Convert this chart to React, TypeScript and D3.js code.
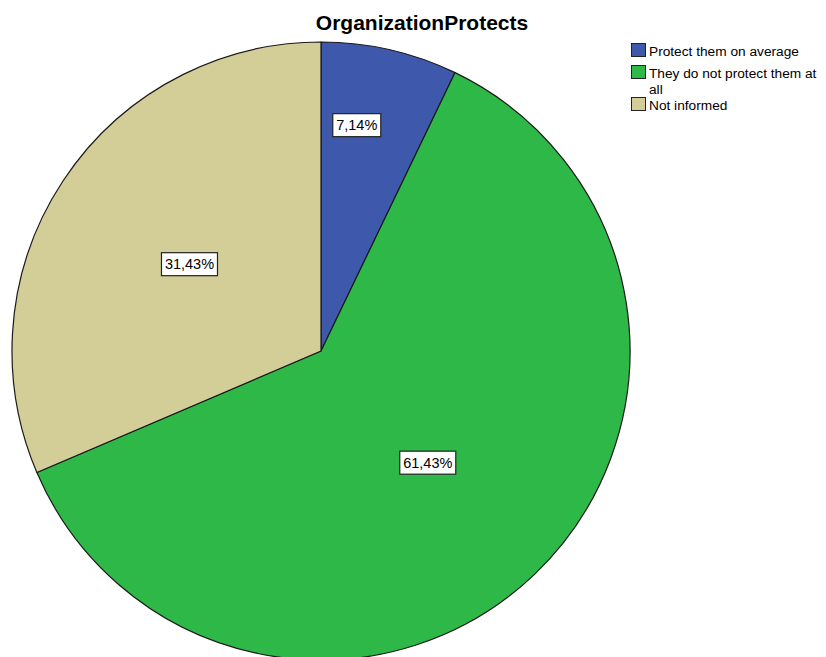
import React from 'react';
import * as d3 from 'd3';

const categories = ['Protect them on average', 'They do not protect them at all', 'Not informed'];
const legendLines = [['Protect them on average'], ['They do not protect them at', 'all'], ['Not informed']];
const counts = [5, 43, 22];
const percentLabels = ['7,14%', '61,43%', '31,43%'];
const colors = ['#3E58AC', '#2EB848', '#D3CE97'];
// where the label sits inside its slice: fraction of the angle span, fraction of the radius
const labelAngleFrac = [0.35, 0.5, 0.5];
const labelRadiusFrac = [0.74, 0.5, 0.51];

const width = 826;
const height = 657;
const cx = 321;
const cy = 351;
const radius = 309;

const App: React.FC = () => {
  const pie = d3.pie<number>().sort(null).value(d => d);
  const arcs = pie(counts);
  const arc = d3.arc<d3.PieArcDatum<number>>().innerRadius(0).outerRadius(radius);

  return (
    <div style={{ position: 'absolute', left: 0, top: 0 }}>
      <svg width={width} height={height} style={{ display: 'block', background: '#fff' }}
        fontFamily="'Liberation Sans', Arial, sans-serif">
        <text x={422} y={30} textAnchor="middle" fontSize={21} fontWeight="bold" fill="#000">
          OrganizationProtects
        </text>
        <g transform={`translate(${cx},${cy})`}>
          {arcs.map((a, i) => (
            <path key={i} d={arc(a) || ''} fill={colors[i]} stroke="#1a1a1a" strokeWidth={1.2} strokeLinejoin="round" />
          ))}
          {arcs.map((a, i) => {
            const ang = a.startAngle + (a.endAngle - a.startAngle) * labelAngleFrac[i];
            const r = radius * labelRadiusFrac[i];
            const x = Math.sin(ang) * r;
            const y = -Math.cos(ang) * r;
            const w = percentLabels[i].length * 8 + 8;
            return (
              <g key={`l${i}`} transform={`translate(${x},${y})`}>
                <rect x={-w / 2} y={-11.5} width={w} height={23} fill="#fff" stroke="#222" strokeWidth={1.2} />
                <text x={0} y={5} textAnchor="middle" fontSize={14.5} fill="#000">{percentLabels[i]}</text>
              </g>
            );
          })}
        </g>
        <g transform="translate(631,43)">
          {categories.map((c, i) => {
            const yOff = [0, 22, 54][i];
            return (
              <g key={c} transform={`translate(0,${yOff})`}>
                <rect x={0.5} y={0.5} width={14} height={13} fill={colors[i]} stroke="#222" strokeWidth={1} />
                {legendLines[i].map((ln, j) => (
                  <text key={j} x={18} y={13 + j * 15.5} fontSize={13.7} fill="#000">{ln}</text>
                ))}
              </g>
            );
          })}
        </g>
      </svg>
    </div>
  );
};

export default App;
